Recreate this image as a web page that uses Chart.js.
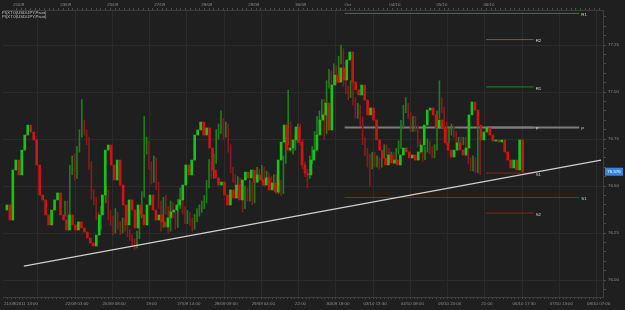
<!DOCTYPE html>
<html>
<head>
<meta charset="utf-8">
<script src="https://cdn.jsdelivr.net/npm/chart.js@4.4.0/dist/chart.umd.min.js"></script>
<style>
  html, body { margin: 0; padding: 0; background: #1f1f1f; overflow: hidden; }
  canvas { display: block; }
</style>
</head>
<body>
<canvas id="chart" width="625" height="310"></canvas>
<script>
// USD/JPY candles, one per bar slot
const opens = [76.372,76.399,76.319,76.585,76.638,76.559,76.691,76.771,76.824,76.787,
  76.745,76.612,76.452,76.426,76.346,76.293,76.372,76.426,76.463,76.346,
  76.319,76.266,76.346,76.293,76.266,76.309,76.277,76.255,76.223,76.197,
  76.181,76.239,76.346,76.452,76.691,76.718,76.612,76.532,76.638,76.505,
  76.399,76.293,76.426,76.372,76.277,76.399,76.346,76.293,76.399,76.452,
  76.372,76.319,76.346,76.309,76.282,76.330,76.362,76.372,76.399,76.426,
  76.505,76.612,76.559,76.638,76.771,76.798,76.840,76.771,76.809,76.702,
  76.585,76.543,76.505,76.521,76.452,76.399,76.479,76.436,76.505,76.426,
  76.532,76.574,76.543,76.585,76.521,76.559,76.532,76.505,76.543,76.479,
  76.516,76.468,76.638,76.734,76.824,76.691,76.702,76.745,76.814,76.734,
  76.612,76.569,76.559,76.638,76.691,76.771,76.851,76.878,76.941,76.798,
  77.037,77.090,77.053,77.128,77.064,77.170,77.213,77.053,77.011,76.984,
  77.037,76.957,76.878,76.915,76.851,76.745,76.691,76.649,76.612,76.665,
  76.622,76.638,76.612,76.665,76.702,76.681,76.649,76.665,76.638,76.681,
  76.718,76.824,76.904,76.915,76.878,76.809,76.851,76.809,76.729,76.691,
  76.654,76.691,76.729,76.691,76.665,76.702,76.878,76.947,76.904,76.824,
  76.745,76.787,76.809,76.771,76.739,76.745,76.734,76.745,76.681,76.638,
  76.596,76.638,76.585,76.745];
const highs = [76.42,76.42,76.61,76.66,76.67,76.71,76.80,76.96,76.85,76.80,
  76.76,76.63,76.48,76.44,76.36,76.39,76.45,76.50,76.48,76.37,
  76.34,76.38,76.36,76.31,76.33,76.33,76.30,76.27,76.24,76.22,
  76.26,76.37,76.47,76.87,76.76,76.74,76.63,76.66,76.65,76.52,
  76.42,76.44,76.45,76.39,76.42,76.41,76.36,76.43,76.49,76.47,
  76.39,76.37,76.36,76.33,76.35,76.38,76.40,76.42,76.45,76.53,
  76.64,76.63,76.67,76.80,76.83,76.90,76.86,76.84,76.83,76.72,
  76.60,76.56,76.55,76.54,76.47,76.50,76.49,76.53,76.52,76.55,
  76.60,76.59,76.61,76.60,76.58,76.57,76.55,76.56,76.56,76.53,
  76.53,76.66,76.76,77.01,76.84,76.73,76.77,76.83,76.83,76.75,
  76.63,76.59,76.66,76.71,76.79,76.87,76.90,76.96,76.96,77.06,
  77.12,77.11,77.15,77.14,77.19,77.25,77.23,77.07,77.03,77.06,
  77.05,76.97,76.94,76.93,76.87,76.76,76.70,76.67,76.68,76.68,
  76.66,76.65,76.69,76.72,76.72,76.70,76.68,76.68,76.70,76.74,
  76.85,76.93,76.97,76.94,76.89,76.87,76.87,76.82,76.74,76.71,
  76.71,76.75,76.74,76.71,76.72,76.90,77.06,76.97,76.92,76.84,
  76.81,76.83,76.82,76.79,76.76,76.76,76.76,76.76,76.70,76.65,
  76.66,76.65,76.82,76.76];
const lows = [76.34,76.30,76.29,76.56,76.53,76.54,76.68,76.76,76.77,76.72,
  76.59,76.43,76.40,76.32,76.26,76.27,76.35,76.41,76.32,76.29,
  76.24,76.25,76.27,76.24,76.25,76.26,76.23,76.21,76.18,76.16,
  76.17,76.22,76.33,76.44,76.67,76.59,76.51,76.52,76.48,76.38,
  76.26,76.28,76.35,76.25,76.26,76.33,76.27,76.28,76.38,76.35,
  76.30,76.30,76.29,76.26,76.27,76.31,76.34,76.36,76.38,76.41,
  76.49,76.54,76.54,76.62,76.75,76.78,76.75,76.76,76.68,76.57,
  76.52,76.49,76.48,76.43,76.36,76.38,76.42,76.42,76.40,76.41,
  76.52,76.53,76.53,76.50,76.51,76.52,76.49,76.49,76.46,76.46,
  76.45,76.46,76.62,76.72,76.68,76.67,76.69,76.73,76.72,76.59,
  76.55,76.49,76.54,76.62,76.68,76.76,76.83,76.86,76.75,76.78,
  77.02,77.03,77.04,77.04,77.05,77.15,77.03,76.99,76.96,76.97,
  76.93,76.86,76.86,76.82,76.72,76.66,76.60,76.50,76.59,76.60,
  76.60,76.59,76.60,76.65,76.66,76.63,76.64,76.62,76.62,76.67,
  76.70,76.81,76.89,76.86,76.79,76.79,76.79,76.71,76.67,76.63,
  76.64,76.68,76.67,76.65,76.65,76.69,76.86,76.89,76.80,76.72,
  76.73,76.77,76.76,76.73,76.73,76.72,76.72,76.66,76.62,76.58,
  76.58,76.57,76.57,76.56];
const closes = [76.399,76.319,76.585,76.638,76.559,76.691,76.771,76.824,76.787,76.745,
  76.612,76.452,76.426,76.346,76.293,76.372,76.426,76.463,76.346,76.319,
  76.266,76.346,76.293,76.266,76.309,76.277,76.255,76.223,76.197,76.181,
  76.239,76.346,76.452,76.691,76.718,76.612,76.532,76.638,76.505,76.399,
  76.293,76.426,76.372,76.277,76.399,76.346,76.293,76.399,76.452,76.372,
  76.319,76.346,76.309,76.282,76.330,76.362,76.372,76.399,76.426,76.505,
  76.612,76.559,76.638,76.771,76.798,76.840,76.771,76.809,76.702,76.585,
  76.543,76.505,76.521,76.452,76.399,76.479,76.436,76.505,76.426,76.532,
  76.574,76.543,76.585,76.521,76.559,76.532,76.505,76.543,76.479,76.516,
  76.468,76.638,76.734,76.824,76.691,76.702,76.745,76.814,76.734,76.612,
  76.569,76.559,76.638,76.691,76.771,76.851,76.878,76.941,76.798,77.037,
  77.090,77.053,77.128,77.064,77.170,77.213,77.053,77.011,76.984,77.037,
  76.957,76.878,76.915,76.851,76.745,76.691,76.649,76.612,76.665,76.622,
  76.638,76.612,76.665,76.702,76.681,76.649,76.665,76.638,76.681,76.718,
  76.824,76.904,76.915,76.878,76.809,76.851,76.809,76.729,76.691,76.654,
  76.691,76.729,76.691,76.665,76.702,76.878,76.947,76.904,76.824,76.745,
  76.787,76.809,76.771,76.739,76.745,76.734,76.745,76.681,76.638,76.596,
  76.638,76.585,76.745,76.576];

// axis texts
const bottomLabels = ['21/09/2011 13:00', '22/09 03:00', '26/09 08:00', '19:00', '27/09 14:00',
  '28/09 09:00', '29/09 04:00', '22:00', '30/09 18:00', '03/10 13:30', '04/10 08:00',
  '05/10 23:00', '21:00', '06/10 17:30', '07/10 13:00', '08/10 07:00'];
const topLabels = ['21/09', '23/09', '25/09', '27/09', '28/09', '29/09', '30/09', 'Oct', '04/10', '05/10', '06/10'];
const legendLines = ['PI(XTO(USD/JPY,Pivot)', 'PI(XTO(USD/JPY,Pivot)'];

// pivot levels (weekly ones long, daily ones short), in bar-slot units
const pivotNames  = ['R1', 'P', 'S1', 'R2', 'R1', 'P', 'S1', 'S2'];
const pivotLevels = [77.418, 76.811, 76.439, 77.279, 77.027, 76.811, 76.569, 76.356];
const pivotStart  = [113.3, 113.3, 113.3, 160.7, 160.7, 160.7, 160.7, 160.7];
const pivotEnd    = [192.0, 192.0, 192.0, 176.7, 176.7, 176.7, 176.7, 176.7];

// hand-drawn support line
const trendX = [5.7, 199.3];
const trendY = [76.074, 76.638];

const UP = '#16c416', DOWN = '#d01212';
const UP_WICK = '#1d7d1d', DOWN_WICK = '#861b1b';
const FONT = 'Liberation Sans';

const isUp = closes.map((c, i) => c >= opens[i]);
const bodies = closes.map((c, i) => ({ x: i, y: [opens[i], c] }));
const wicks = closes.map((c, i) => ({ x: i, y: [lows[i], highs[i]] }));

function pivotColor(name) {
  if (name[0] === 'R') return '#1f8a1f';
  if (name[0] === 'S') return '#8e2222';
  return '#7c7c7c';
}

const pivotSets = pivotNames.map((n, i) => ({
  type: 'line',
  data: [{ x: pivotStart[i], y: pivotLevels[i] }, { x: pivotEnd[i], y: pivotLevels[i] }],
  borderColor: pivotColor(n),
  borderWidth: n === 'P' ? 2 : 1,
  pointRadius: 0,
  xAxisID: 'x',
  order: 3
}));

const decor = {
  id: 'decor',
  beforeDraw(chart) {
    const c = chart.ctx;
    c.save();
    c.fillStyle = '#1f1f1f';
    c.fillRect(0, 0, chart.width, chart.height);
    c.restore();
  },
  afterDraw(chart) {
    const c = chart.ctx, xs = chart.scales.x, ys = chart.scales.y;
    c.save();
    c.font = '4.4px "' + FONT + '"';
    c.textBaseline = 'middle';
    c.textAlign = 'left';
    c.fillStyle = '#d8d8d8';
    pivotNames.forEach((n, i) => {
      c.fillText(n, xs.getPixelForValue(pivotEnd[i]) + 2, ys.getPixelForValue(pivotLevels[i]) + 1.5);
    });
    c.fillStyle = '#c4c4c4';
    c.font = '4.2px "' + FONT + '"';
    legendLines.forEach((t, i) => c.fillText(t, 2, 12.5 + i * 4.2));
    // last price tag
    const last = closes[closes.length - 1];
    const py = ys.getPixelForValue(last);
    c.fillStyle = '#3b84dc';
    c.fillRect(605, py - 4, 18, 8);
    c.fillStyle = '#ffffff';
    c.font = '4.4px "' + FONT + '"';
    c.textAlign = 'center';
    c.fillText(last.toFixed(3), 614, py + 0.5);
    c.restore();
  }
};

const tickFont = { family: FONT, size: 4.4 };

new Chart(document.getElementById('chart'), {
  type: 'bar',
  data: {
    datasets: [
      {
        data: bodies,
        backgroundColor: isUp.map(u => u ? UP : DOWN),
        barThickness: 2,
        minBarLength: 1,
        grouped: false,
        xAxisID: 'x',
        order: 1
      },
      {
        data: wicks,
        backgroundColor: isUp.map(u => u ? UP_WICK : DOWN_WICK),
        barThickness: 1,
        grouped: false,
        xAxisID: 'xw',
        order: 2
      },
      ...pivotSets,
      {
        type: 'line',
        data: trendX.map((x, i) => ({ x, y: trendY[i] })),
        borderColor: '#cfcfcf',
        borderWidth: 1.2,
        pointRadius: 0,
        xAxisID: 'x',
        order: 0
      }
    ]
  },
  options: {
    responsive: false,
    animation: false,
    devicePixelRatio: 1,
    layout: { padding: { left: 3, right: 0, top: 0, bottom: 0 } },
    plugins: { legend: { display: false }, tooltip: { enabled: false } },
    scales: {
      x: {
        type: 'linear',
        position: 'bottom',
        min: -0.6667,
        max: 199.3333,
        afterBuildTicks(s) {
          const t = [];
          for (let k = -3; k <= 155; k++) t.push({ value: 4.75 + 1.25 * k });
          s.ticks = t;
        },
        afterFit(s) { s.height = 13; s.paddingLeft = 0; s.paddingRight = 0; },
        ticks: {
          autoSkip: false,
          maxRotation: 0,
          minRotation: 0,
          padding: 2,
          color: '#8e8e8e',
          font: tickFont,
          callback(v) {
            const k = Math.round((v - 4.75) / 1.25);
            if (k === 0) return bottomLabels[0];
            if (k >= 15 && k % 10 === 5) return bottomLabels[(k - 5) / 10];
            return '';
          }
        },
        grid: {
          color(ctx) {
            if (!ctx.tick) return 'rgba(0,0,0,0)';
            const k = Math.round((ctx.tick.value - 4.75) / 1.25);
            return (k >= 5 && k % 10 === 5) ? '#2b2b2b' : 'rgba(0,0,0,0)';
          },
          tickColor: '#4c4c4c',
          tickLength: 2
        },
        border: { color: '#3c3c3c' }
      },
      xTop: {
        type: 'linear',
        position: 'top',
        min: -0.6667,
        max: 199.3333,
        afterBuildTicks(s) {
          const t = [];
          for (let k = 0; k <= 123; k++) t.push({ value: 3.8 + 1.58 * k });
          s.ticks = t;
        },
        afterFit(s) { s.height = 10; s.paddingLeft = 0; s.paddingRight = 0; },
        ticks: {
          autoSkip: false,
          maxRotation: 0,
          minRotation: 0,
          padding: 1,
          color: '#8e8e8e',
          font: tickFont,
          callback(v) {
            const k = Math.round((v - 3.8) / 1.58);
            return (k % 10 === 0 && topLabels[k / 10]) ? topLabels[k / 10] : '';
          }
        },
        grid: { drawOnChartArea: false, tickColor: '#4c4c4c', tickLength: 2 },
        border: { color: '#3c3c3c' }
      },
      xw: {
        type: 'linear',
        display: false,
        min: -0.8333,
        max: 199.1667
      },
      y: {
        position: 'right',
        min: 75.9096,
        max: 77.4362,
        afterBuildTicks(s) {
          const t = [];
          for (let k = 1519; k <= 1548; k++) t.push({ value: k / 20 });
          s.ticks = t;
        },
        afterFit(s) { s.width = 22; s.paddingTop = 0; s.paddingBottom = 0; },
        ticks: {
          autoSkip: false,
          padding: 2,
          color: '#8e8e8e',
          font: tickFont,
          callback(v) { return Math.round(v * 100) % 25 === 0 ? v.toFixed(2) : ''; }
        },
        grid: {
          color(ctx) {
            if (!ctx.tick) return 'rgba(0,0,0,0)';
            return Math.round(ctx.tick.value * 100) % 25 === 0 ? '#2b2b2b' : 'rgba(0,0,0,0)';
          },
          tickColor: '#4c4c4c',
          tickLength: 3
        },
        border: { color: '#3c3c3c' }
      }
    }
  },
  plugins: [decor]
});
</script>
</body>
</html>
